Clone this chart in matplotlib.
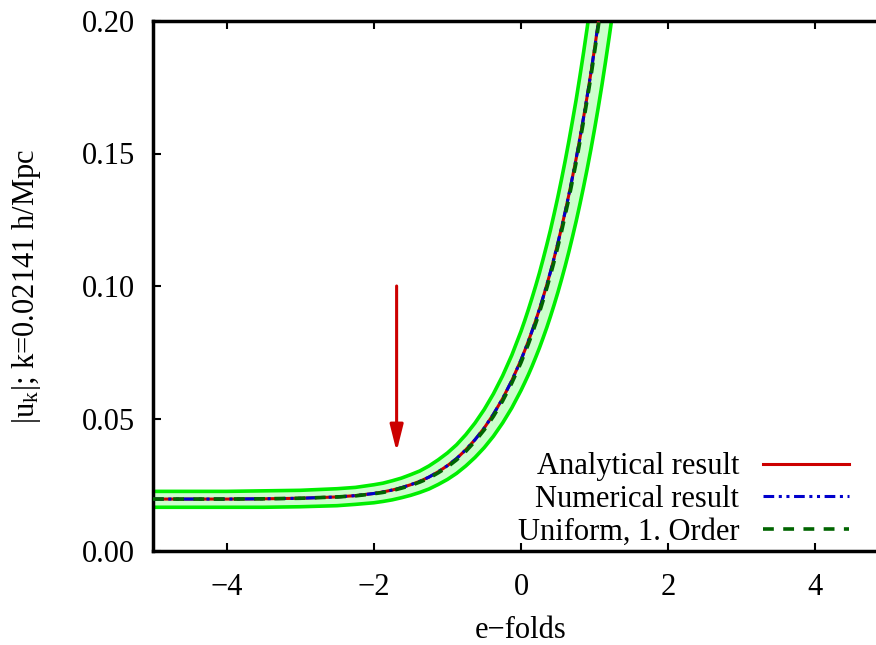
import matplotlib
matplotlib.use("Agg")
import matplotlib.pyplot as plt
from matplotlib.ticker import FormatStrFormatter

# e-folds sample points
efolds = [-5.0, -4.5, -4.0, -3.5, -3.0, -2.5, -2.25, -2.0, -1.875, -1.75,
          -1.625, -1.5, -1.375, -1.25, -1.125, -1.0, -0.875, -0.75, -0.625,
          -0.5, -0.375, -0.25, -0.125, 0.0, 0.05, 0.1, 0.15, 0.2, 0.25, 0.3,
          0.35, 0.4, 0.45, 0.5, 0.55, 0.6, 0.65, 0.7, 0.75, 0.8, 0.85, 0.9,
          0.95, 1.0, 1.05, 1.1, 1.15, 1.2, 1.25, 1.3]

# mode amplitude |u_k| for k = 0.02141 h/Mpc
analytical = [0.0196, 0.0196, 0.0196, 0.0197, 0.0199, 0.0204, 0.0209, 0.0217,
              0.0223, 0.0230, 0.0239, 0.0250, 0.0263, 0.0279, 0.0299, 0.0322,
              0.0349, 0.0382, 0.0420, 0.0464, 0.0516, 0.0575, 0.0643, 0.0721,
              0.0756, 0.0792, 0.0830, 0.0870, 0.0912, 0.0957, 0.1004, 0.1053,
              0.1106, 0.1161, 0.1219, 0.1280, 0.1344, 0.1412, 0.1482, 0.1557,
              0.1636, 0.1718, 0.1805, 0.1897, 0.1993, 0.2094, 0.2201, 0.2313,
              0.2430, 0.2554]
numerical = [0.0196, 0.0196, 0.0196, 0.0197, 0.0199, 0.0204, 0.0209, 0.0217,
             0.0223, 0.0230, 0.0239, 0.0250, 0.0263, 0.0279, 0.0299, 0.0322,
             0.0349, 0.0382, 0.0420, 0.0464, 0.0516, 0.0575, 0.0643, 0.0721,
             0.0756, 0.0792, 0.0830, 0.0870, 0.0912, 0.0957, 0.1004, 0.1053,
             0.1106, 0.1161, 0.1219, 0.1280, 0.1344, 0.1412, 0.1482, 0.1557,
             0.1636, 0.1718, 0.1805, 0.1897, 0.1993, 0.2094, 0.2201, 0.2313,
             0.2430, 0.2554]
uniform_1st = [0.0196, 0.0196, 0.0196, 0.0197, 0.0199, 0.0204, 0.0208, 0.0216,
               0.0221, 0.0228, 0.0237, 0.0247, 0.0260, 0.0275, 0.0295, 0.0317,
               0.0344, 0.0376, 0.0414, 0.0457, 0.0508, 0.0566, 0.0634, 0.0711,
               0.0746, 0.0781, 0.0819, 0.0859, 0.0900, 0.0945, 0.0992, 0.1041,
               0.1093, 0.1148, 0.1205, 0.1267, 0.1330, 0.1399, 0.1468, 0.1544,
               0.1622, 0.1705, 0.1791, 0.1884, 0.1979, 0.2081, 0.2187, 0.2300,
               0.2416, 0.2540]

# tolerance band around the analytical result
band_upper = [0.0225, 0.0225, 0.0225, 0.0227, 0.0229, 0.0235, 0.0240, 0.0250,
              0.0256, 0.0265, 0.0275, 0.0288, 0.0302, 0.0321, 0.0344, 0.0370,
              0.0401, 0.0439, 0.0483, 0.0534, 0.0593, 0.0661, 0.0739, 0.0829,
              0.0869, 0.0911, 0.0955, 0.1001, 0.1049, 0.1101, 0.1155, 0.1211,
              0.1272, 0.1335, 0.1402, 0.1472, 0.1546, 0.1624, 0.1704, 0.1791,
              0.1881, 0.1976, 0.2076, 0.2182, 0.2292, 0.2408, 0.2531, 0.2660,
              0.2795, 0.2937]
band_lower = [0.0165, 0.0165, 0.0165, 0.0165, 0.0167, 0.0171, 0.0176, 0.0182,
              0.0187, 0.0193, 0.0201, 0.0210, 0.0221, 0.0234, 0.0251, 0.0270,
              0.0293, 0.0321, 0.0353, 0.0390, 0.0433, 0.0483, 0.0540, 0.0606,
              0.0635, 0.0665, 0.0697, 0.0731, 0.0766, 0.0804, 0.0843, 0.0885,
              0.0929, 0.0975, 0.1024, 0.1075, 0.1129, 0.1186, 0.1245, 0.1308,
              0.1374, 0.1443, 0.1516, 0.1593, 0.1674, 0.1759, 0.1849, 0.1943,
              0.2041, 0.2145]

# horizon-crossing marker
arrow_x = -1.69
arrow_y_start = 0.10
arrow_y_end = 0.0375

x_ticks = [-4, -2, 0, 2, 4]
y_ticks = [0.00, 0.05, 0.10, 0.15, 0.20]

plt.rcParams['font.family'] = ['Liberation Serif', 'DejaVu Serif']
plt.rcParams['mathtext.fontset'] = 'custom'
plt.rcParams['mathtext.rm'] = 'Liberation Serif'
plt.rcParams['mathtext.it'] = 'Liberation Serif'
FS = 22

fig = plt.figure(figsize=(8.76, 6.45), dpi=100)
W, H = 876, 645
left, right, bottom, top = 153, 889, 94, 624
ax = fig.add_axes([left / W, bottom / H, (right - left) / W, (top - bottom) / H])

ax.fill_between(efolds, band_lower, band_upper, color='#ccffcc', lw=0, zorder=1)
ax.plot(efolds, band_upper, color='#00ee00', lw=2.6, zorder=2)
ax.plot(efolds, band_lower, color='#00ee00', lw=2.6, zorder=2)

ax.plot(efolds, analytical, color='#cc0000', lw=2.2, zorder=3,
        label='Analytical result')
ax.plot(efolds, numerical, color='#0000cc', lw=2.2, zorder=4,
        dashes=(3.5, 1.5, 1.0, 1.5, 1.0, 1.5), label='Numerical result')
ax.plot(efolds, uniform_1st, color='#006400', lw=2.6, zorder=5,
        dashes=(3.0, 2.6), label='Uniform, 1. Order')

ax.annotate('', xy=(arrow_x, arrow_y_end), xytext=(arrow_x, arrow_y_start),
            arrowprops=dict(arrowstyle='-|>,head_length=0.8,head_width=0.2',
                            color='#cc0000', lw=2.2, shrinkA=0, shrinkB=0,
                            mutation_scale=20), zorder=6)

ax.set_xlim(-5, 5)
ax.set_ylim(0, 0.20)
ax.set_xticks(x_ticks)
ax.set_yticks(y_ticks)
ax.yaxis.set_major_formatter(FormatStrFormatter('%.2f'))
ax.tick_params(direction='in', length=6, width=1.5, labelsize=FS,
               top=True, right=True)
ax.tick_params(axis='y', pad=13)
ax.tick_params(axis='x', pad=15.5)
for s in ax.spines.values():
    s.set_linewidth(2.5)

ax.set_xlabel('e\u2212folds', fontsize=FS, labelpad=10.5)
ax.set_ylabel(r'|u$_\mathregular{k}$|; k=0.02141 h/Mpc', fontsize=FS, labelpad=28)

leg = ax.legend(loc='lower right', bbox_to_anchor=(0.9457, 0.008),
                frameon=False, markerfirst=False, fontsize=FS,
                handlelength=2.8, handletextpad=0.8, labelspacing=0.12,
                borderpad=0, borderaxespad=0)

fig.savefig('out.png', dpi=100)
